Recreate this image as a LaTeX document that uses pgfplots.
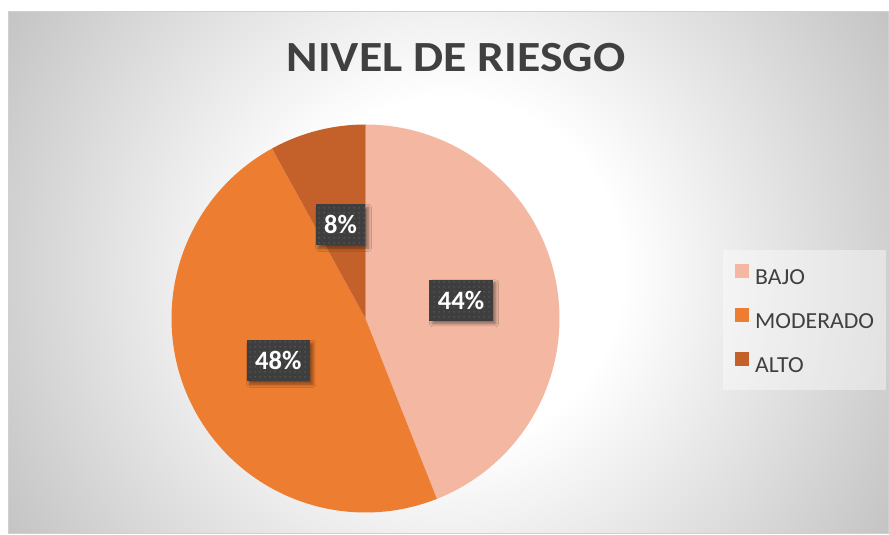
\documentclass[border=0pt]{standalone}
\usepackage{pgfplots}
\pgfplotsset{compat=1.18}
\usepackage{pgfplotstable}
\usepackage{fontspec}
\setmainfont{Carlito}
\newfontfamily\titlefont[FakeStretch=1.11]{Carlito}
\newfontfamily\legfont[FakeStretch=1.03]{Carlito}
\usetikzlibrary{patterns,shadows.blur}
\definecolor{bajo}{HTML}{F4B8A2}
\definecolor{moderado}{HTML}{ED7D31}
\definecolor{alto}{HTML}{C4612A}
\definecolor{txtgray}{HTML}{404040}
\definecolor{boxgray}{HTML}{3E3E3E}
\definecolor{dotgray}{HTML}{505050}
\definecolor{cornergray}{HTML}{C4C4C4}
\definecolor{framegray}{HTML}{D0D0D0}
\pgfdeclareradialshading{bgshade}{\pgfpoint{0bp}{0bp}}{color(0bp)=(white); color(17bp)=(white); color(50bp)=(cornergray); color(60bp)=(cornergray)}
\pgfdeclarepatternformonly{bigdots}{\pgfpointorigin}{\pgfpoint{4.6pt}{4.6pt}}{\pgfpoint{4.6pt}{4.6pt}}{\pgfpathrectangle{\pgfpoint{1.5pt}{1.5pt}}{\pgfpoint{1.5pt}{1.5pt}}\pgfusepath{fill}}

\pgfplotstableread{
label value
BAJO 44
MODERADO 48
ALTO 8
}\riesgo

\begin{document}
\begin{tikzpicture}[x=1pt,y=1pt,
  lab/.style={fill=boxgray, text=white, font=\fontsize{26.5}{30}\selectfont\bfseries,
    minimum height=41pt, inner xsep=8.5pt, inner ysep=0pt,
    blur shadow={shadow xshift=3pt, shadow yshift=-3pt, shadow opacity=45, shadow blur radius=3pt, shadow blur steps=8},
    postaction={pattern=bigdots, pattern color=dotgray}}]
\pgfplotstablegetelem{0}{value}\of\riesgo \let\vA\pgfplotsretval
\pgfplotstablegetelem{1}{value}\of\riesgo \let\vB\pgfplotsretval
\pgfplotstablegetelem{2}{value}\of\riesgo \let\vC\pgfplotsretval
\pgfmathsetmacro\aA{90}
\pgfmathsetmacro\aB{\aA-3.6*\vA}
\pgfmathsetmacro\aC{\aB-3.6*\vB}
\pgfmathsetmacro\aD{\aC-3.6*\vC}
\def\cx{365.5}\def\cy{216.5}\def\rr{194}

\path[use as bounding box] (0,0) rectangle (889,535);
\fill[white] (0,0) rectangle (889,535);
\begin{scope}
\clip (8,1) rectangle (889,523);
\pgftransformshift{\pgfpoint{448pt}{263pt}}
\pgftransformscale{10.2}
\pgflowlevelsynccm
\pgfuseshading{bgshade}
\end{scope}
\draw[framegray, line width=1pt] (8.5,1) rectangle (888.5,523);

\node[anchor=base, text=txtgray, font=\fontsize{43}{50}\titlefont\bfseries] at (456,463) {NIVEL DE RIESGO};

\begin{axis}[x=1pt, y=1pt, scale only axis, xmin=0, xmax=889, ymin=0, ymax=535,
  hide axis, clip=false, at={(0,0)}, anchor=south west,
  legend image code/.code={\fill[#1, fill opacity=1] (0pt,0pt) rectangle (14pt,14pt);},
  legend cell align=left,
  legend style={at={(axis cs:723,285)}, anchor=north west, draw=none,
    fill=white, fill opacity=0.4, text opacity=1,
    font=\fontsize{23}{27}\legfont, text=txtgray,
    inner xsep=12pt, inner ysep=14pt, row sep=20pt,
    nodes={inner sep=0pt, text height=16pt, text depth=4pt},
    /tikz/every odd column/.append style={column sep=6pt}},
  ]
\addplot[fill=bajo, draw=none, domain=0:1, samples=120]
  ({\cx+\rr*cos(\aA+(\aB-\aA)*x)}, {\cy+\rr*sin(\aA+(\aB-\aA)*x)}) -- (axis cs:\cx,\cy) -- cycle;
\addlegendentry{BAJO}
\addplot[fill=moderado, draw=none, domain=0:1, samples=120]
  ({\cx+\rr*cos(\aB+(\aC-\aB)*x)}, {\cy+\rr*sin(\aB+(\aC-\aB)*x)}) -- (axis cs:\cx,\cy) -- cycle;
\addlegendentry{MODERADO}
\addplot[fill=alto, draw=none, domain=0:1, samples=40]
  ({\cx+\rr*cos(\aC+(\aD-\aC)*x)}, {\cy+\rr*sin(\aC+(\aD-\aC)*x)}) -- (axis cs:\cx,\cy) -- cycle;
\addlegendentry{ALTO}
\node[lab] at (axis cs:461,234.7) {\vA\%};
\node[lab] at (axis cs:278.3,174.2) {\vB\%};
\node[lab] at (axis cs:340.5,310.2) {\vC\%};
\end{axis}
\end{tikzpicture}
\end{document}
